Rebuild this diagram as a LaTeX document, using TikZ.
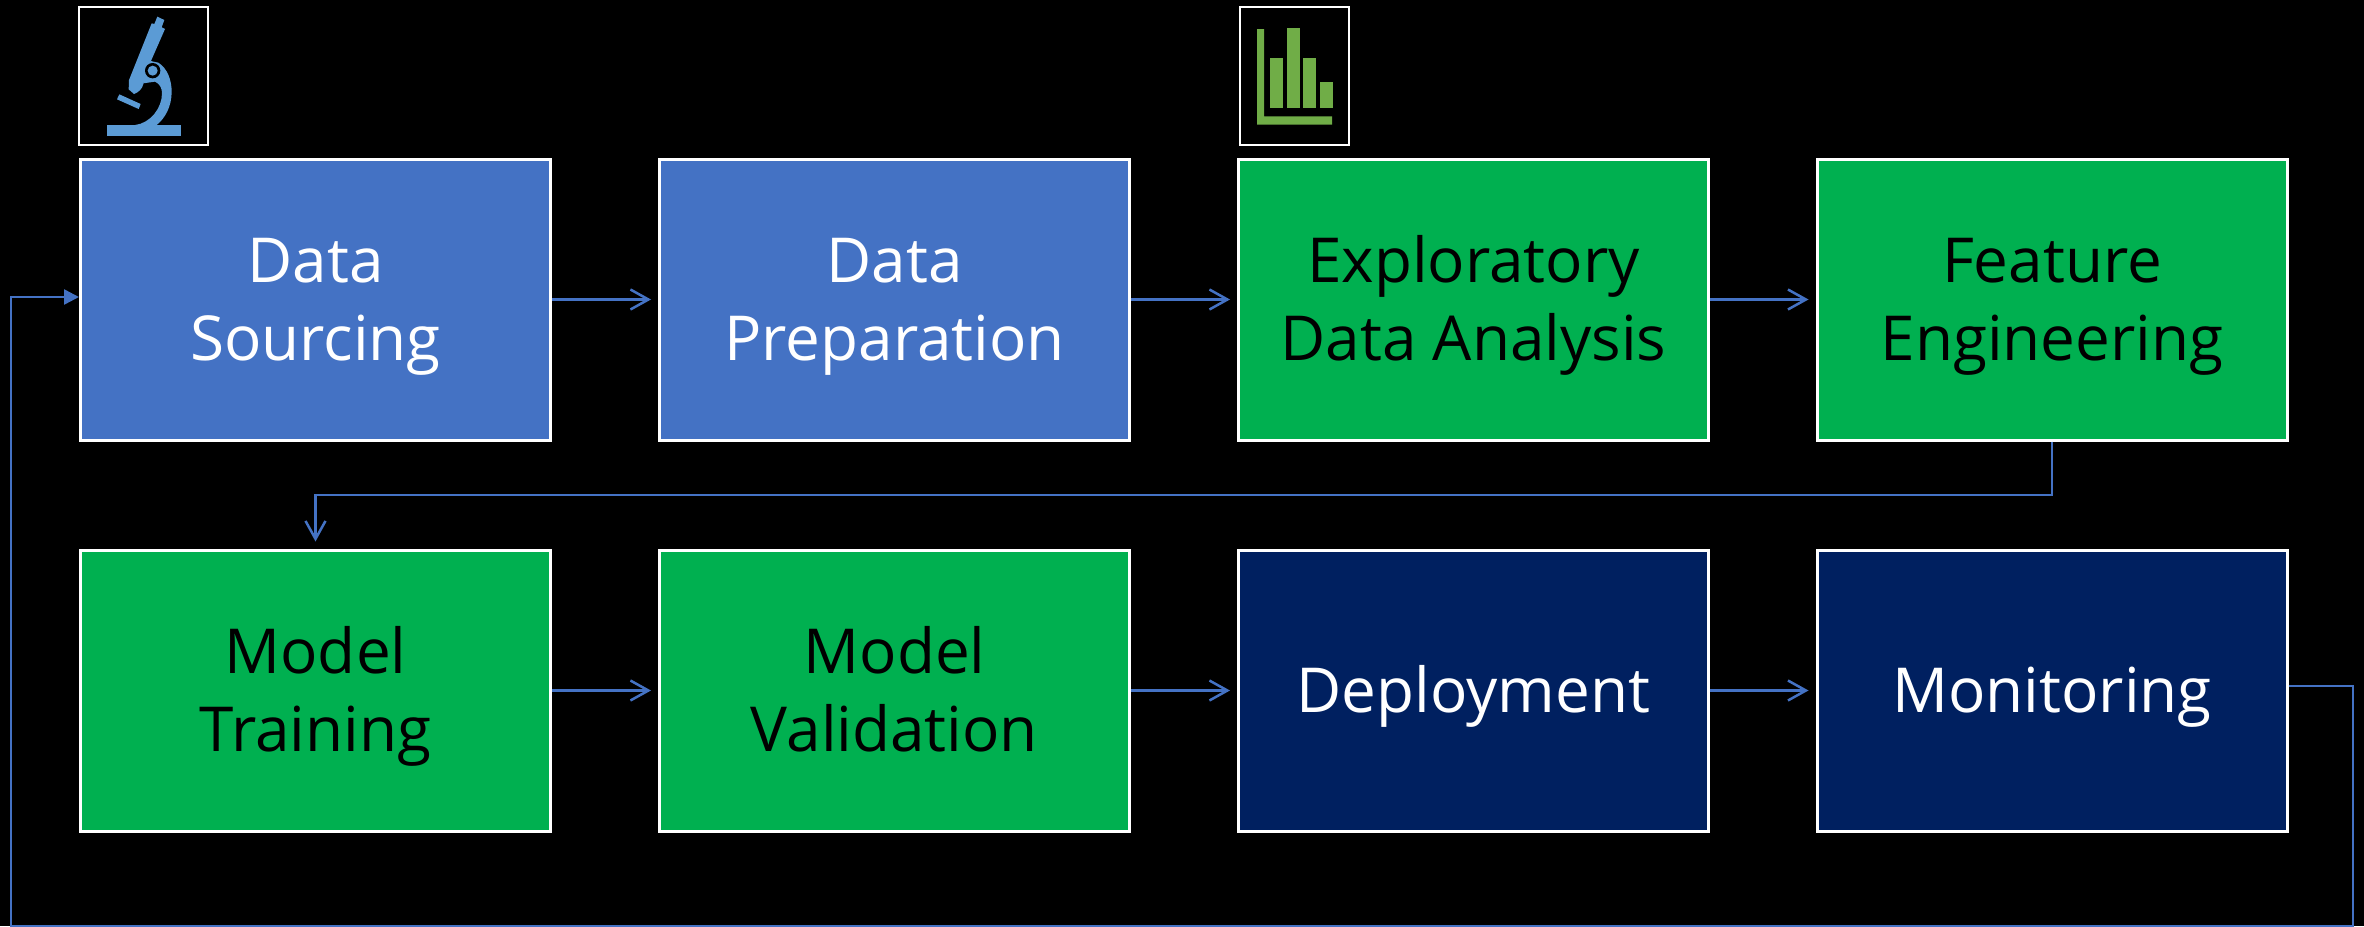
\documentclass[tikz,border=0pt]{standalone}
\usepackage{fontspec}
\setmainfont{Open Sans}
\usetikzlibrary{arrows.meta}
\definecolor{bluebox}{HTML}{4472C4}
\definecolor{greenbox}{HTML}{00B050}
\definecolor{navybox}{HTML}{002060}
\definecolor{scopeblue}{HTML}{5B9BD5}
\definecolor{chartgreen}{HTML}{70AD47}
\newcommand\topst{\rule{0pt}{32pt}}
\newcommand\botst{\rule[-10.4pt]{0pt}{10.4pt}}
\tikzset{
  x=0.5pt,y=-0.5pt,
  stage/.style={draw=white,line width=1.5pt,minimum width=235pt,minimum height=140.5pt,inner sep=0pt,align=center,
    font=\fontsize{31}{39}\selectfont},
  bluestage/.style={stage,fill=bluebox,text=white},
  greenstage/.style={stage,fill=greenbox,text=black},
  navystage/.style={stage,fill=navybox,text=white},
  iconframe/.style={draw=white,line width=1.3pt,inner sep=0pt},
  flow/.style={draw=bluebox,line width=1.25pt,-{Straight Barb[length=9pt,width=10pt,line width=1.25pt]},shorten >=3.5pt},
  loopflow/.style={draw=bluebox,line width=1.25pt,-{Triangle[length=7.5pt,width=7.5pt]}}
}
\begin{document}
\begin{tikzpicture}
\fill[black] (0,0) rectangle (2364,926);
\useasboundingbox (0,0) rectangle (2364,926);
\clip (0,0) rectangle (2364,926);
\node[bluestage]  (n1) at (315.5,299.5) {\topst Data\\Sourcing\botst};
\node[bluestage]  (n2) at (894.5,299.5) {\topst Data\\Preparation\botst};
\node[greenstage] (n3) at (1473.5,299.5) {\topst Exploratory\\Data Analysis\botst};
\node[greenstage] (n4) at (2052,299.5) {\topst Feature\\Engineering\botst};
\node[greenstage] (n5) at (315.5,690.5) {\topst Model\\Training\botst};
\node[greenstage] (n6) at (894.5,690.5) {\topst Model\\Validation\botst};
\node[navystage]  (n7) at (1473.5,690.5) {\topst Deployment\botst};
\node[navystage]  (n8) at (2052,690.5) {\topst Monitoring\botst};
\node[iconframe,minimum width=64.5pt,minimum height=69pt] (f1) at (143.5,76) {};
\node[iconframe,minimum width=54.5pt,minimum height=69pt] (f2) at (1294.5,76) {};
\draw[flow] (n1) -- (n2);
\draw[flow] (n2) -- (n3);
\draw[flow] (n3) -- (n4);
\draw[flow] (n5) -- (n6);
\draw[flow] (n6) -- (n7);
\draw[flow] (n7) -- (n8);
\coordinate (a1) at (n4.south |- 0,495);
\coordinate (a2) at (n5.north |- 0,495);
\draw[flow] (n4.south) -- (a1) -- (a2) -- (n5.north);
\coordinate (b1) at (2353,686);
\coordinate (b2) at (2353,926);
\coordinate (b3) at (11,926);
\coordinate (b4) at (11,297);
\draw[loopflow] (n8.east |- b1) -- (b1) -- (b2) -- (b3) -- (b4) -- (n1.west |- b4);
% microscope
\begin{scope}[shift={(60,0)},x=0.16667pt,y=-0.16667pt]
  \fill[scopeblue] (142,375) rectangle (362,408);
  \fill[scopeblue] (178,283) -- (242,312) -- (236,327) -- (171,298) -- cycle;
  \fill[scopeblue] (292,50) -- (313,60) -- (305,82) -- (315,87) -- (272,185)
     -- (250,252) .. controls (248,265) and (235,278) .. (222,282) -- (206,268) -- (207,240) -- (275,70) -- (283,72) -- cycle;
  \fill[scopeblue] (272,183) -- (295,188) .. controls (322,205) and (335,240) .. (335,275)
     .. controls (335,320) and (315,355) .. (290,375) -- (225,375)
     .. controls (270,370) and (306,325) .. (306,280)
     .. controls (306,265) and (300,252) .. (285,245) -- (250,250) -- (262,195) -- cycle;
  \fill[black] (278,212) circle[radius=23*0.16667pt];
  \fill[scopeblue] (278,212) circle[radius=15*0.16667pt];
\end{scope}
% bar chart
\begin{scope}[shift={(1220,0)},x=0.16667pt,y=-0.16667pt]
  \fill[chartgreen] (111,87) -- (132,87) -- (132,349) -- (336,349) -- (336,374) -- (111,374) -- cycle;
  \fill[chartgreen] (150,174) rectangle (189,324);
  \fill[chartgreen] (201,84) rectangle (240,324);
  \fill[chartgreen] (249,174) rectangle (288,324);
  \fill[chartgreen] (300,246) rectangle (339,324);
\end{scope}
\end{tikzpicture}
\end{document}
